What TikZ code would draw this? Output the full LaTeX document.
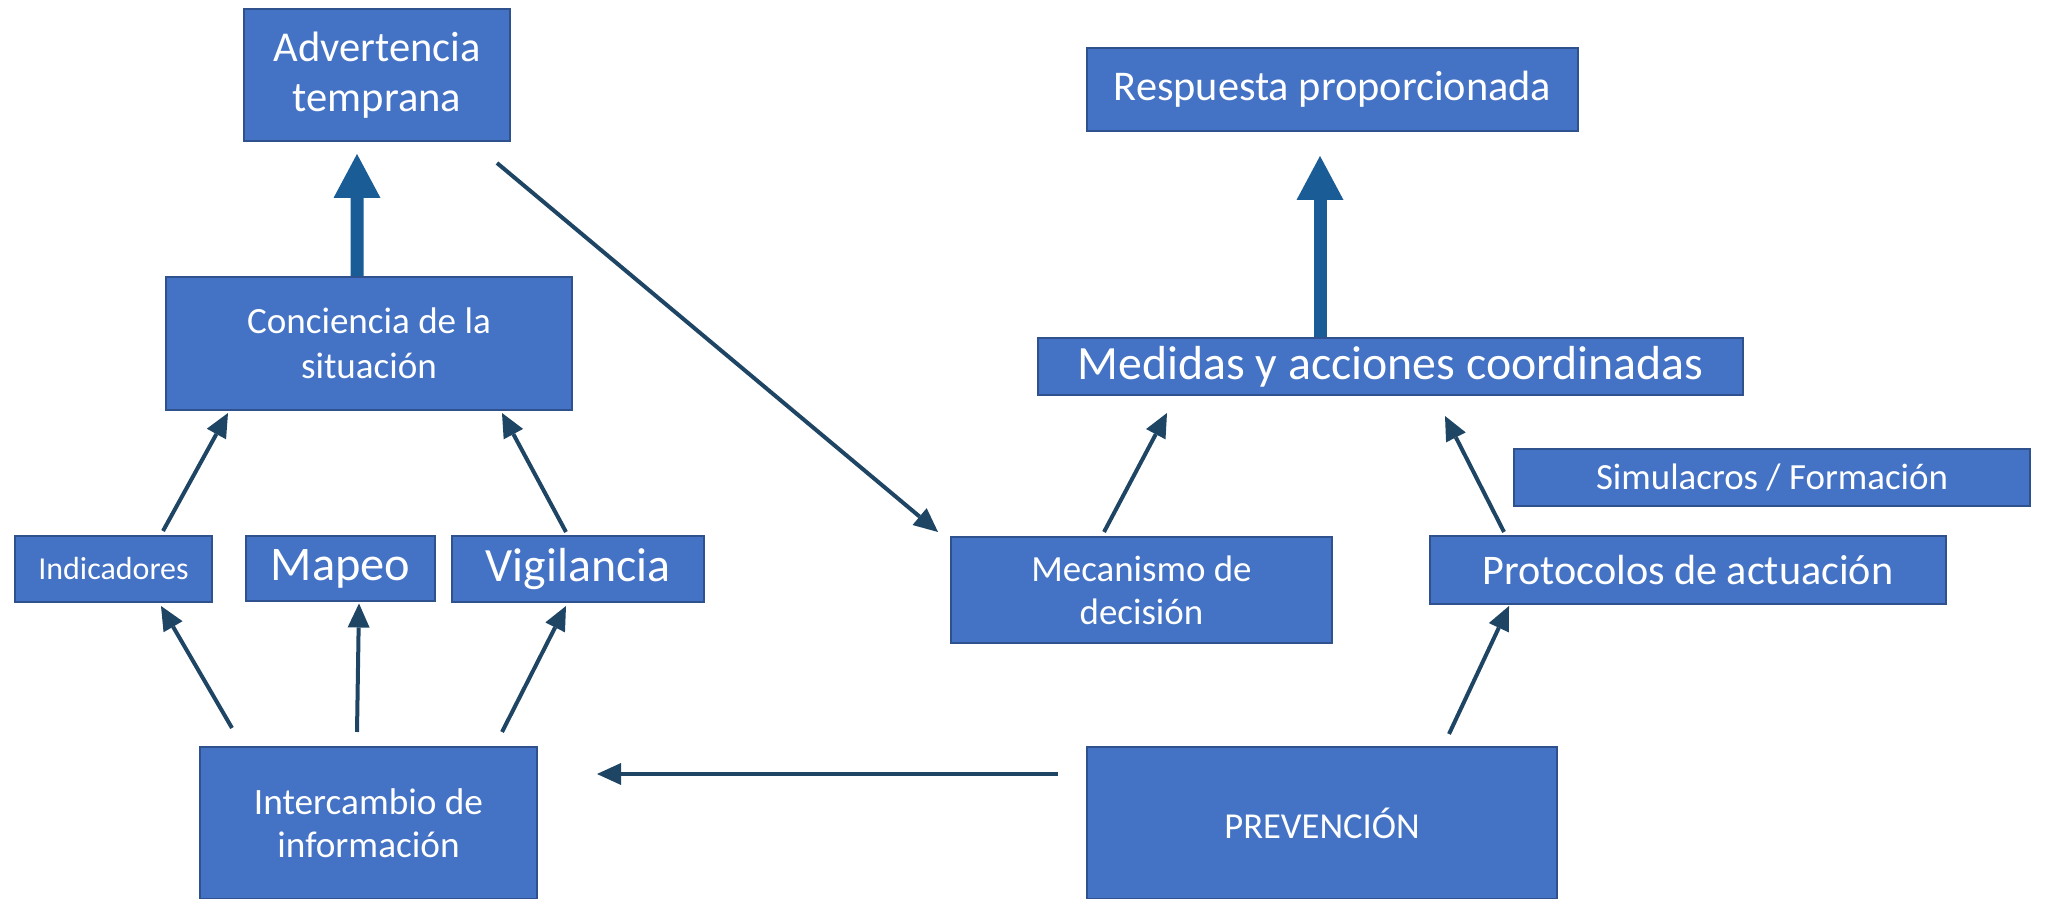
\documentclass[tikz,border=0pt]{standalone}
\usepackage{fontspec}
\setsansfont{Carlito}
\usetikzlibrary{positioning}
\usetikzlibrary{arrows.meta}
\definecolor{boxblue}{HTML}{4472C4}
\definecolor{boxline}{HTML}{2F528F}
\definecolor{arrowdark}{HTML}{1F4565}
\definecolor{arrowthick}{HTML}{1A5C96}
\newcommand{\boxfont}[2]{\fontsize{#1}{#2}\selectfont\sffamily}
\tikzset{%
	% Specifications for style of nodes:
	base/.style = {rectangle, draw=boxline, line width=0.2mm, fill=boxblue,
		inner sep=0pt, text=white, align=center},
	% Specifications for style of arrows:
	bigArrow/.style = {draw=arrowthick, line width=1.3mm,
		-{Triangle[width=4.7mm,length=4.4mm,line width=0pt]}},
	linkArrow/.style = {draw=arrowdark, line width=0.4mm,
		-{Triangle[width=2.2mm,length=2.4mm,line width=0pt]}}
}
\begin{document}
\begin{tikzpicture}[every node/.style={font=\sffamily}]
		\useasboundingbox (0,0) rectangle (204.7mm,-89.9mm);
		\node (adv) [base, minimum width=26.6mm, minimum height=13.2mm, font=\boxfont{12.1pt}{14.2pt}] at (37.7mm,-7.5mm) {Advertencia\\temprana};
		\node (conc) [base, minimum width=40.6mm, minimum height=13.3mm, font=\boxfont{10.55pt}{12.8pt}] at (36.9mm,-34.35mm) {Conciencia de la\\situación};
		\node (resp) [base, minimum width=49.1mm, minimum height=8.3mm, font=\boxfont{12.05pt}{13pt}] at (133.25mm,-8.95mm) {Respuesta proporcionada};
		\node (med) [base, minimum width=70.5mm, minimum height=5.7mm, font=\boxfont{13.6pt}{14pt}] at (139.05mm,-36.65mm) {Medidas y acciones coordinadas};
		\node (sim) [base, minimum width=51.6mm, minimum height=5.7mm, font=\boxfont{10.5pt}{12pt}] at (177.2mm,-47.75mm) {Simulacros / Formación};
		\node (ind) [base, minimum width=19.7mm, minimum height=6.6mm, font=\boxfont{9.1pt}{10pt}] at (11.35mm,-56.9mm) {Indicadores};
		\node (map) [base, minimum width=18.9mm, minimum height=6.5mm, font=\boxfont{13.75pt}{14pt}, right=3.2mm of ind] {Mapeo};
		\node (vig) [base, minimum width=25.2mm, minimum height=6.6mm, font=\boxfont{13.6pt}{14pt}, right=1.5mm of map] {Vigilancia};
		\node (mec) [base, minimum width=38.1mm, minimum height=10.6mm, font=\boxfont{10.5pt}{12.2pt}] at (114.15mm,-59mm) {Mecanismo de\\decisión};
		\node (prot) [base, minimum width=51.6mm, minimum height=6.8mm, font=\boxfont{12pt}{13pt}, right=9.6mm of mec, yshift=2mm] {Protocolos de actuación};
		\node (inter) [base, minimum width=33.7mm, minimum height=15.2mm, font=\boxfont{10.6pt}{12.2pt}] at (36.85mm,-82.3mm) {Intercambio de\\información};
		\node (prev) [base, minimum width=47mm, minimum height=15.2mm, font=\boxfont{10.4pt}{12pt}] at (132.2mm,-82.3mm) {PREVENCIÓN};
		\draw[bigArrow] ([xshift=-1.2mm]conc.north) -- ([xshift=-2mm,yshift=-1.2mm]adv.south);
		\draw[bigArrow] ([xshift=-7.05mm]med.north) -- ([xshift=-1.25mm,yshift=-2.4mm]resp.south);
		\draw[linkArrow] ([xshift=-1.4mm,yshift=-2.1mm]adv.south east) -- ([xshift=-1.2mm,yshift=0.4mm]mec.north west);
		\draw[linkArrow] ([xshift=4.95mm,yshift=0.4mm]ind.north) -- ([xshift=-14.1mm,yshift=-0.2mm]conc.south);
		\draw[linkArrow] ([xshift=-1.2mm,yshift=0.3mm]vig.north) -- ([xshift=13.3mm,yshift=-0.2mm]conc.south);
		\draw[linkArrow] ([xshift=-13.65mm,yshift=1.8mm]inter.north) -- ([xshift=4.75mm,yshift=-0.3mm]ind.south);
		\draw[linkArrow] ([xshift=-1.15mm,yshift=1.4mm]inter.north) -- ([xshift=1.85mm,yshift=-0.1mm]map.south);
		\draw[linkArrow] ([xshift=13.35mm,yshift=1.4mm]inter.north) -- ([xshift=-1.2mm,yshift=-0.3mm]vig.south);
		\draw[linkArrow, line width=0.45mm] ([xshift=-2.8mm,yshift=4.9mm]prev.west) -- ([xshift=5.9mm,yshift=4.9mm]inter.east);
		\draw[linkArrow] ([xshift=-3.75mm,yshift=0.4mm]mec.north) -- ([xshift=-22.35mm,yshift=-1.7mm]med.south);
		\draw[linkArrow] ([xshift=-18.4mm,yshift=0.3mm]prot.north) -- ([xshift=5.45mm,yshift=-2mm]med.south);
		\draw[linkArrow] ([xshift=12.7mm,yshift=1.2mm]prev.north) -- ([xshift=-17.9mm,yshift=-0.1mm]prot.south);
	\end{tikzpicture}
\end{document}
